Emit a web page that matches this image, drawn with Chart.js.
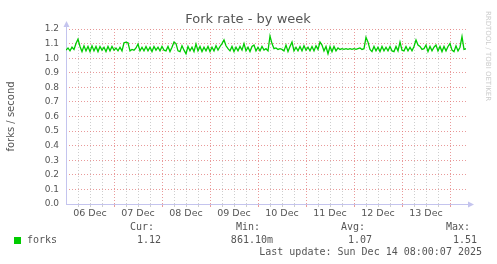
<!DOCTYPE html>
<html>
<head>
<meta charset="utf-8">
<script src="https://cdn.jsdelivr.net/npm/chart.js@4/dist/chart.umd.min.js"></script>
<style>
  body { margin: 0; background: #ffffff; }
  canvas { display: block; }
</style>
</head>
<body>
<canvas id="chart" width="497" height="264"></canvas>
<script>
// One value per hour, starting Dec 06 00:00 until Dec 14 08:00
const forkRate = [
  1.055, 1.07, 1.05, 1.075, 1.06, 1.10, 1.13, 1.08, 1.045, 1.085,
  1.05, 1.08, 1.045, 1.085, 1.05, 1.08, 1.045, 1.08, 1.055, 1.075,
  1.045, 1.08, 1.05, 1.08, 1.055, 1.07, 1.05, 1.075, 1.05, 1.105,
  1.11, 1.105, 1.05, 1.06, 1.055, 1.07, 1.097, 1.05, 1.075, 1.05,
  1.08, 1.05, 1.075, 1.045, 1.08, 1.055, 1.075, 1.05, 1.08, 1.055,
  1.05, 1.08, 1.045, 1.075, 1.11, 1.10, 1.05, 1.045, 1.085, 1.055,
  1.03, 1.08, 1.05, 1.075, 1.045, 1.097, 1.05, 1.08, 1.045, 1.075,
  1.05, 1.08, 1.045, 1.075, 1.05, 1.085, 1.055, 1.08, 1.10, 1.125,
  1.085, 1.065, 1.05, 1.08, 1.045, 1.075, 1.05, 1.08, 1.055, 1.10,
  1.05, 1.075, 1.045, 1.08, 1.09, 1.05, 1.075, 1.05, 1.08, 1.055,
  1.065, 1.05, 1.152, 1.10, 1.065, 1.07, 1.06, 1.065, 1.06, 1.05,
  1.09, 1.045, 1.08, 1.11, 1.05, 1.075, 1.05, 1.08, 1.05, 1.085,
  1.055, 1.075, 1.05, 1.08, 1.05, 1.085, 1.06, 1.11, 1.09, 1.05,
  1.08, 1.03, 1.08, 1.045, 1.08, 1.05, 1.07, 1.06, 1.065, 1.06,
  1.065, 1.06, 1.065, 1.06, 1.065, 1.06, 1.065, 1.07, 1.06, 1.065,
  1.143, 1.11, 1.06, 1.045, 1.08, 1.05, 1.075, 1.045, 1.08, 1.05,
  1.075, 1.05, 1.08, 1.05, 1.045, 1.08, 1.05, 1.11, 1.055, 1.05,
  1.08, 1.05, 1.075, 1.05, 1.08, 1.125, 1.09, 1.08, 1.06, 1.065,
  1.09, 1.045, 1.08, 1.05, 1.075, 1.09, 1.05, 1.08, 1.045, 1.08,
  1.05, 1.08, 1.10, 1.055, 1.045, 1.085, 1.05, 1.075, 1.148, 1.06,
  1.065
];

const dayLabels = ['06 Dec', '07 Dec', '08 Dec', '09 Dec', '10 Dec', '11 Dec', '12 Dec', '13 Dec'];

const legendHeaders = ['Cur:', 'Min:', 'Avg:', 'Max:'];
const legendValues = ['1.12', '861.10m', '1.07', '1.51'];

const title = 'Fork rate - by week';
const yTitle = 'forks / second';
const seriesName = 'forks';
const lastUpdate = 'Last update: Sun Dec 14 08:00:07 2025';

const lineColor = '#00cc00';
const majorGrid = 'rgba(226, 120, 120, 0.75)';
const minorGrid = 'rgba(190, 190, 190, 0.75)';
const axisColor = '#c4c4ee';
const textColor = '#555555';

// Axes with arrows, drawn the munin way.
const axesPlugin = {
  id: 'muninAxes',
  beforeDatasetsDraw: (chart) => {
    const {ctx, chartArea: {left, right, top, bottom}} = chart;
    ctx.save();
    ctx.strokeStyle = axisColor;
    ctx.fillStyle = axisColor;
    ctx.lineWidth = 1;
    ctx.beginPath();
    ctx.moveTo(left + 0.5, bottom + 0.5);
    ctx.lineTo(left + 0.5, top - 6);
    ctx.moveTo(left, bottom + 0.5);
    ctx.lineTo(right + 4, bottom + 0.5);
    ctx.stroke();

    ctx.beginPath();
    ctx.moveTo(left + 0.5, top - 8);
    ctx.lineTo(left - 2.5, top - 2);
    ctx.lineTo(left + 3.5, top - 2);
    ctx.closePath();
    ctx.fill();

    ctx.beginPath();
    ctx.moveTo(right + 8, bottom + 0.5);
    ctx.lineTo(right + 2, bottom - 2.5);
    ctx.lineTo(right + 2, bottom + 3.5);
    ctx.closePath();
    ctx.fill();
    ctx.restore();
  }
};

// Title, axis title, legend and footer text.
const textPlugin = {
  id: 'muninText',
  afterDraw: (chart) => {
    const {ctx, chartArea: {top, bottom}} = chart;
    ctx.save();
    ctx.fillStyle = textColor;

    ctx.font = '13px "DejaVu Sans", sans-serif';
    ctx.textAlign = 'center';
    ctx.textBaseline = 'alphabetic';
    ctx.fillText(title, 248, 23);

    ctx.save();
    ctx.translate(11, (top + bottom) / 2);
    ctx.rotate(-Math.PI / 2);
    ctx.font = '10px "DejaVu Sans", sans-serif';
    ctx.textBaseline = 'middle';
    ctx.fillText(yTitle, 0, 0);
    ctx.restore();

    ctx.save();
    ctx.translate(488, 56);
    ctx.rotate(Math.PI / 2);
    ctx.font = '7px "DejaVu Sans", sans-serif';
    ctx.fillStyle = '#cccccc';
    ctx.textBaseline = 'middle';
    ctx.fillText('RRDTOOL / TOBI OETIKER', 0, 0);
    ctx.restore();

    ctx.font = '10px "DejaVu Sans Mono", monospace';
    ctx.textBaseline = 'middle';

    ctx.fillStyle = lineColor;
    ctx.fillRect(14, 237, 7, 7);
    ctx.fillStyle = textColor;
    ctx.textAlign = 'left';
    ctx.fillText(seriesName, 27, 240.5);

    const headerRight = [154, 260, 365, 470];
    const valueRight = [161, 273, 372, 477];
    ctx.textAlign = 'right';
    legendHeaders.forEach((h, i) => {
      ctx.fillText(h, headerRight[i], 227.5);
      ctx.fillText(legendValues[i], valueRight[i], 240.5);
    });
    ctx.fillText(lastUpdate, 482, 252.5);

    ctx.restore();
  }
};

const config = {
  type: 'line',
  data: {
    datasets: [{
      label: seriesName,
      data: forkRate.map((v, i) => ({x: i, y: v})),
      borderColor: lineColor,
      borderWidth: 1.3,
      pointRadius: 0,
      tension: 0,
      fill: false
    }]
  },
  options: {
    responsive: false,
    animation: false,
    devicePixelRatio: 1,
    layout: {
      padding: {top: 29, right: 31, left: 0, bottom: 0}
    },
    plugins: {
      legend: {display: false},
      title: {display: false},
      tooltip: {enabled: false}
    },
    scales: {
      x: {
        type: 'linear',
        min: 0,
        max: forkRate.length - 1,
        afterFit: (scale) => { scale.height = 60; },
        afterBuildTicks: (scale) => {
          scale.ticks = scale.ticks.filter(t => t.value % 6 === 0);
        },
        ticks: {
          stepSize: 6,
          autoSkip: false,
          maxRotation: 0,
          minRotation: 0,
          padding: 1,
          color: textColor,
          font: {family: '"DejaVu Sans", sans-serif', size: 9.5},
          callback: (value) => {
            if (value % 24 === 12) {
              return dayLabels[(value - 12) / 24] || '';
            }
            return '';
          }
        },
        grid: {
          drawTicks: true,
          tickLength: 3,
          lineWidth: 1,
          color: (ctx) => {
            const v = ctx.tick ? ctx.tick.value : 1;
            if (v === 0) return 'rgba(0,0,0,0)';
            return v % 24 === 0 ? majorGrid : minorGrid;
          },
          tickColor: (ctx) => {
            const v = ctx.tick ? ctx.tick.value : 1;
            if (v === 0) return 'rgba(0,0,0,0)';
            return v % 24 === 0 ? majorGrid : minorGrid;
          }
        },
        border: {display: false, dash: [1, 2]}
      },
      y: {
        min: 0,
        max: 1.2,
        afterFit: (scale) => { scale.width = 66; },
        ticks: {
          stepSize: 0.1,
          padding: 7,
          color: textColor,
          font: {family: '"DejaVu Sans", sans-serif', size: 9},
          callback: (value) => value.toFixed(1)
        },
        grid: {
          drawTicks: false,
          lineWidth: 1,
          color: (ctx) => (ctx.tick && Math.abs(ctx.tick.value) < 1e-9) ? 'rgba(0,0,0,0)' : majorGrid
        },
        border: {display: false, dash: [1, 2]}
      }
    }
  },
  plugins: [axesPlugin, textPlugin]
};

new Chart(document.getElementById('chart'), config);
</script>
</body>
</html>
